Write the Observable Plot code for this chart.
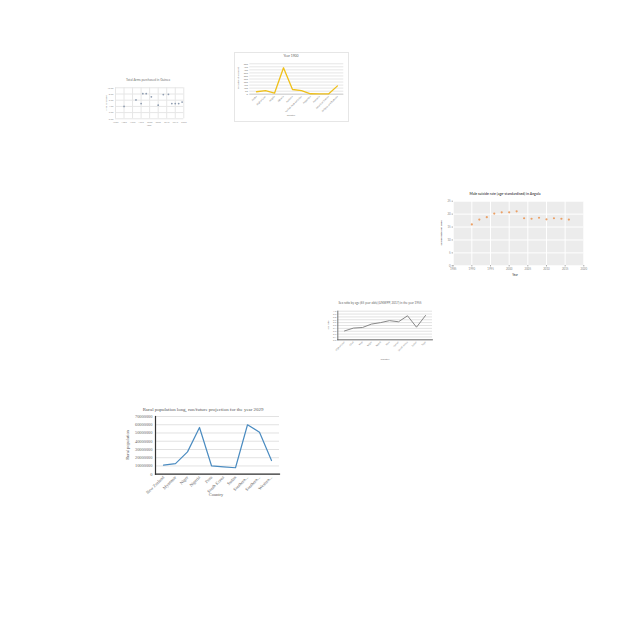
<!DOCTYPE html>
<html><head><meta charset="utf-8">
<script src="https://cdn.jsdelivr.net/npm/d3@7"></script>
<script src="https://cdn.jsdelivr.net/npm/@observablehq/plot@0.6"></script>
<style>
body{margin:0;background:#fff;}
#root{position:relative;width:640px;height:640px;overflow:hidden;background:#fff;}
.t{position:absolute;white-space:nowrap;transform:translate(-50%,-50%);line-height:1;}
.r{transform:translate(-50%,-50%) rotate(-90deg);}
.box{position:absolute;}
</style></head><body><div id="root"></div>
<script>
// ---- Chart A: arms purchases (scatter)
const armsYears = [1985,1992,1995,1996,1998,2001,2005,2008,2011,2013,2015,2017,2019];
const armsValues = [4.0,6.1,4.9,8.1,8.1,7.1,4.4,7.8,7.9,4.9,4.9,4.9,5.4];
const armsXTicks = [1980,1985,1990,1995,2000,2005,2010,2015,2020];
const armsYTicks = [0,2,4,6,8,10];

// ---- Chart B: population in 1900 (line)
const countries1900 = ["Aruba","Afghanistan","Angola","Albania","Andorra","United Arab Emirates","Argentina","Armenia","American Samoa","Antigua and Barbuda"];
const pop1900 = [40,60,17,435,77,60,7,4,4,137];
const popTicks = [0,50,100,150,200,250,300,350,400,450,500];

// ---- Chart C: male suicide rate (scatter)
const suicideYears = [1990,1992,1994,1996,1998,2000,2002,2004,2006,2008,2010,2012,2014,2016];
const suicideRates = [16.0,17.9,18.8,20.2,20.7,20.7,21.1,18.4,18.2,18.6,18.0,18.4,18.2,17.9];
const suicideXTicks = [1985,1990,1995,2000,2005,2010,2015,2020];
const suicideYTicks = [0,5,10,15,20,25];

// ---- Chart D: sex ratio 1955 (line)
const sexCountries = ["Afghanistan","Chad","Mali","Niger","Nepal","Peru","Yemen","South Africa","Sudan","Togo"];
const sexRatios = [0.31,0.41,0.43,0.55,0.60,0.67,0.63,0.84,0.44,0.85];
const sexTicks = [0,0.1,0.2,0.3,0.4,0.5,0.6,0.7,0.8,0.9,1.0];

// ---- Chart E: rural population 2029 (line)
const ruralCountries = ["New Zealand","Myanmar","Niger","Nigeria","Peru","South Korea","Sudan","Southern Asia","Southern Africa","Western Africa"];
const ruralPop = [10.9e6,12.9e6,27.1e6,56.7e6,10.2e6,9.0e6,7.8e6,60.0e6,51.0e6,16.6e6];
const ruralTicks = [0,1e7,2e7,3e7,4e7,5e7,6e7,7e7];

const root = document.getElementById("root");
function place(el, left, top){ el.style.position="absolute"; el.style.left=left+"px"; el.style.top=top+"px"; root.append(el); }
function txt(s, x, y, size, opts={}){
  const d=document.createElement("div");
  d.className="t"+(opts.rot?" r":"");
  d.textContent=s;
  d.style.left=x+"px"; d.style.top=y+"px";
  d.style.fontSize=size+"px";
  d.style.fontFamily=opts.font||"Lato, 'Open Sans', sans-serif";
  d.style.color=opts.color||"#777";
  if(opts.weight) d.style.fontWeight=opts.weight;
  root.append(d);
}

// Chart A
const dataA = armsYears.map((y,i)=>({year:y, v:armsValues[i]}));
const plotA = Plot.plot({
  width:95, height:55, marginLeft:15, marginRight:11.7, marginTop:11.3, marginBottom:12.7,
  style:{fontSize:"2.4px", fontFamily:"Lato, sans-serif", color:"#999", background:"transparent", overflow:"visible"},
  x:{domain:[1980,2020], label:null},
  y:{domain:[0,10], label:null},
  marks:[
    Plot.gridX(armsXTicks,{stroke:"#e6e6e6", strokeOpacity:1}),
    Plot.gridY(armsYTicks,{stroke:"#e6e6e6", strokeOpacity:1}),
    Plot.axisX({ticks:armsXTicks, tickSize:0, tickPadding:2, tickFormat:d=>String(d)}),
    Plot.axisY({ticks:armsYTicks, tickSize:0, tickPadding:2, tickFormat:d=>d.toFixed(2)}),
    Plot.dot(dataA,{x:"year", y:"v", r:0.9, fill:"#8e9cb0", stroke:"none"})
  ]
});
place(plotA, 100, 76);
txt("Total Arms purchased in Guinea", 148, 81, 3.2);
txt("Arms purchased", 106, 103, 2.2, {rot:true});
txt("Year", 149, 125.5, 2.4);

// Chart B
const boxB = document.createElement("div");
boxB.className="box"; boxB.style.width="113px"; boxB.style.height="68px"; boxB.style.border="0.6px solid #e6e6e6";
place(boxB, 234, 52);
const dataB = countries1900.map((c,i)=>({c, v:pop1900[i]}));
const plotB = Plot.plot({
  width:114, height:69, marginLeft:15.3, marginRight:4.7, marginTop:11.3, marginBottom:27.3,
  style:{fontSize:"2.4px", fontFamily:"Lato, sans-serif", color:"#777", background:"transparent", overflow:"visible"},
  x:{type:"point", domain:countries1900, padding:0.5, label:null},
  y:{domain:[0,500], label:null},
  marks:[
    Plot.gridY(popTicks,{stroke:"#e6e6e6", strokeOpacity:1}),
    Plot.axisX({tickSize:0, tickPadding:2, tickRotate:-45}),
    Plot.axisY({ticks:popTicks, tickSize:0, tickPadding:2}),
    Plot.ruleY([0],{stroke:"#cfcfcf"}),
    Plot.line(dataB,{x:"c", y:"v", stroke:"#efc01a", strokeWidth:1.3})
  ]
});
place(plotB, 234, 52);
txt("Year 1900", 291, 57, 3.4, {color:"#666"});
txt("Population (thousands)", 238, 78, 2.2, {rot:true});
txt("Country", 291, 115.5, 2.4);

// Chart C
const dataC = suicideYears.map((y,i)=>({year:y, v:suicideRates[i]}));
const plotC = Plot.plot({
  width:160, height:92, marginLeft:22.7, marginRight:6.7, marginTop:12.7, marginBottom:14.7,
  style:{fontSize:"2.8px", fontFamily:"Lato, sans-serif", color:"#888", background:"transparent", overflow:"visible"},
  x:{domain:[1985,2020], label:null},
  y:{domain:[0,25], label:null},
  marks:[
    Plot.frame({fill:"#ececec", stroke:"none"}),
    Plot.gridX(suicideXTicks,{stroke:"#ffffff", strokeOpacity:1}),
    Plot.gridY(suicideYTicks,{stroke:"#ffffff", strokeOpacity:1}),
    Plot.axisX({ticks:suicideXTicks, tickSize:1, tickPadding:1.5, tickFormat:d=>String(d)}),
    Plot.axisY({ticks:suicideYTicks, tickSize:1, tickPadding:1.5}),
    Plot.dot(dataC,{x:"year", y:"v", r:1.1, fill:"#eba066", stroke:"none"})
  ]
});
place(plotC, 430, 188);
txt("Male suicide rate (age-standardised) in Angola", 505, 195, 3.5, {color:"#555", weight:"bold"});
txt("Suicide Rate per 100k", 441, 233, 2.6, {rot:true, color:"#555", weight:"bold"});
txt("Year", 515, 275, 2.8, {color:"#555", weight:"bold"});

// Chart D
const dataD = sexCountries.map((c,i)=>({c, v:sexRatios[i]}));
const plotD = Plot.plot({
  width:125, height:70, marginLeft:19.3, marginRight:11, marginTop:14.7, marginBottom:26.7,
  style:{fontSize:"2.4px", fontFamily:"Lato, sans-serif", color:"#888", background:"transparent", overflow:"visible"},
  x:{type:"point", domain:sexCountries, padding:0.42, label:null},
  y:{domain:[0,1], label:null},
  marks:[
    Plot.gridY(sexTicks,{stroke:"#e2e2e2", strokeOpacity:1}),
    Plot.axisX({tickSize:0, tickPadding:2, tickRotate:-45}),
    Plot.axisY({ticks:sexTicks, tickSize:0, tickPadding:1.5}),
    Plot.frame({anchor:"left", stroke:"#555", strokeWidth:0.8}),
    Plot.frame({anchor:"bottom", stroke:"#555", strokeWidth:0.8}),
    Plot.line(dataD,{x:"c", y:"v", stroke:"#7a7a7a", strokeWidth:0.9})
  ]
});
place(plotD, 318, 296);
txt("Sex ratio by age (65 year olds) (UNWPP, 2017) in the year 1955", 380, 303, 3.0, {color:"#666"});
txt("Sex ratio", 328, 325, 2.3, {rot:true});
txt("Country", 385, 360, 2.5);

// Chart E
const dataE = ruralCountries.map((c,i)=>({c, v:ruralPop[i]}));
const serif = "'Liberation Serif', 'DejaVu Serif', serif";
const plotE = Plot.plot({
  width:180, height:100, marginLeft:45, marginRight:11, marginTop:14, marginBottom:28.3,
  style:{fontSize:"4.4px", fontFamily:serif, color:"#666", background:"transparent", overflow:"visible"},
  x:{type:"point", domain:ruralCountries, padding:0.45, label:null},
  y:{domain:[0,7e7], label:null},
  marks:[
    Plot.gridY(ruralTicks,{stroke:"#e2e2e2", strokeOpacity:1}),
    Plot.axisX({tickSize:0, tickPadding:2.5, tickRotate:-45, tickFormat:d=>d.length>11?d.split(" ")[0]+"...":d}),
    Plot.axisY({ticks:ruralTicks, tickSize:0, tickPadding:3, tickFormat:d=>String(d)}),
    Plot.frame({anchor:"left", stroke:"#333", strokeWidth:1.2}),
    Plot.frame({anchor:"bottom", stroke:"#333", strokeWidth:1.2}),
    Plot.line(dataE,{x:"c", y:"v", stroke:"#4a8bc0", strokeWidth:1.2})
  ]
});
place(plotE, 110, 402);
txt("Rural population long, run/future projection for the year 2029", 203, 410, 4.9, {font:serif, color:"#555"});
txt("Rural population", 128, 445, 4.4, {rot:true, font:serif, color:"#555"});
txt("Country", 216, 494.5, 4.4, {font:serif, color:"#555"});
</script></body></html>
